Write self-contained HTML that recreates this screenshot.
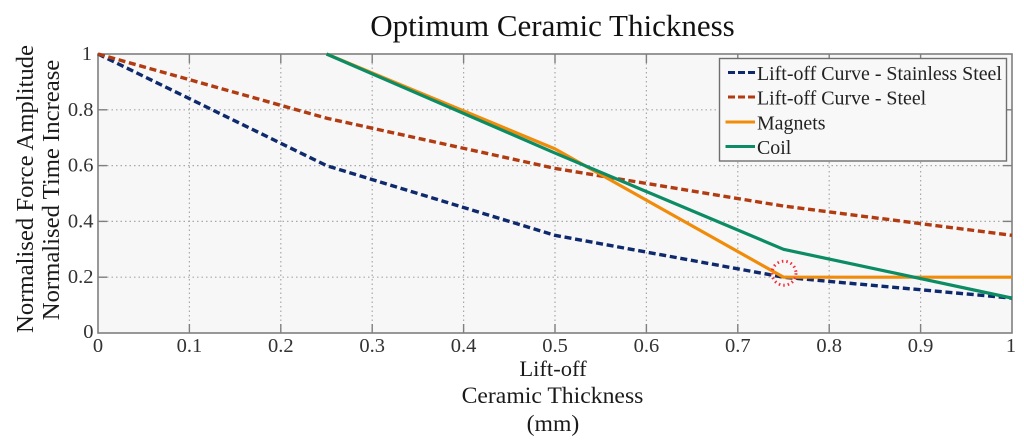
<!DOCTYPE html>
<html>
<head>
<meta charset="utf-8">
<style>
html,body{margin:0;padding:0;background:#fff;width:1024px;height:445px;overflow:hidden}
svg{display:block;font-family:"Liberation Serif",serif;filter:blur(0.35px)}
</style>
</head>
<body>
<svg id="chart" width="1024" height="445" viewBox="0 0 1024 445" xmlns="http://www.w3.org/2000/svg">
<rect x="98" y="54" width="914" height="279" fill="#f7f7f7"/>
<g id="grid"></g>
<g id="ticks"></g>
<rect x="98" y="54" width="914" height="279" fill="none" stroke="#7f7f7f" stroke-width="1.6"/>
<g id="series"></g>
<circle id="marker" r="12" fill="none" stroke="#f03040" stroke-width="3" stroke-dasharray="1.5 3"/>
<g>
<rect x="719.5" y="58.5" width="287" height="102.5" fill="#f8f8f8" stroke="#6f6f6f" stroke-width="1.4"/>
<g id="legend-entries"></g>
</g>
<text x="552.5" y="36" text-anchor="middle" font-size="31" fill="#111">Optimum Ceramic Thickness</text>
<text x="553" y="376" text-anchor="middle" font-size="22.6" fill="#1a1a1a">Lift-off</text>
<text x="552.5" y="403" text-anchor="middle" font-size="23.7" fill="#1a1a1a">Ceramic Thickness</text>
<text x="553" y="431" text-anchor="middle" font-size="23.7" fill="#1a1a1a">(mm)</text>
<text transform="translate(33 189) rotate(-90)" text-anchor="middle" font-size="24.7" fill="#1a1a1a">Normalised Force Amplitude</text>
<text transform="translate(59 190) rotate(-90)" text-anchor="middle" font-size="24.7" fill="#1a1a1a">Normalised Time Increase</text>
</svg>
<script>
const xTicks = [0, 0.1, 0.2, 0.3, 0.4, 0.5, 0.6, 0.7, 0.8, 0.9, 1];
const yTicks = [0, 0.2, 0.4, 0.6, 0.8, 1];
const stainlessX = [0, 0.25, 0.5, 0.75, 1];
const stainlessY = [1, 0.6, 0.35, 0.2, 0.125];
const steelX = [0, 0.25, 0.5, 0.75, 1];
const steelY = [1, 0.77, 0.59, 0.455, 0.35];
const magnetsX = [0.25, 0.5, 0.75, 1];
const magnetsY = [1, 0.66, 0.2, 0.2];
const coilX = [0.25, 0.5, 0.75, 1];
const coilY = [1, 0.645, 0.3, 0.125];
const markerPoint = [0.75, 0.2];
const legendLabels = ['Lift-off Curve - Stainless Steel', 'Lift-off Curve - Steel', 'Magnets', 'Coil'];

const NS = 'http://www.w3.org/2000/svg';
const sx = v => 98 + v * 914;
const sy = v => 333 - v * 279;
function make(tag, parent, attrs) {
  const el = document.createElementNS(NS, tag);
  for (const k in attrs) el.setAttribute(k, attrs[k]);
  parent.appendChild(el);
  return el;
}
const grid = document.getElementById('grid');
const ticks = document.getElementById('ticks');

xTicks.forEach(t => {
  const x = sx(t);
  if (t > 0 && t < 1) {
    const g = make('line', grid, {x1: x, x2: x, y1: 54, y2: 333, stroke: '#a8a8a8', 'stroke-width': 1.2, 'stroke-dasharray': '1.5 3'});
    
    
    const a = make('line', ticks, {x1: x, x2: x, y1: 333, y2: 324, stroke: '#7f7f7f', 'stroke-width': 1.4});
    
    
    const b = make('line', ticks, {x1: x, x2: x, y1: 54, y2: 63, stroke: '#7f7f7f', 'stroke-width': 1.4});
    
    
  }
  const label = make('text', ticks, {x: x + (t === 1 ? -1 : 0), y: 352, 'text-anchor': 'middle', 'font-size': 20.5, fill: '#333'});
  
  
  label.textContent = String(t);
});

yTicks.forEach(t => {
  const y = sy(t);
  if (t > 0 && t < 1) {
    const g = make('line', grid, {x1: 98, x2: 1012, y1: y, y2: y, stroke: '#a8a8a8', 'stroke-width': 1.2, 'stroke-dasharray': '1.5 3'});
    
    
    const a = make('line', ticks, {x1: 98, x2: 107, y1: y, y2: y, stroke: '#7f7f7f', 'stroke-width': 1.4});
    
    
    const b = make('line', ticks, {x1: 1012, x2: 1003, y1: y, y2: y, stroke: '#7f7f7f', 'stroke-width': 1.4});
    
    
  }
  const label = make('text', ticks, {x: t === 1 ? 92 : 93.5, y: y + (t === 0 ? 5 : 6), 'text-anchor': 'end', 'font-size': 20.5, fill: '#333'});
  
  
  label.textContent = String(t);
});

const seriesGroup = document.getElementById('series');
function drawSeries(xs, ys, color, dash, width) {
  const pts = xs.map((v, i) => sx(v) + ',' + sy(ys[i])).join(' ');
  const attrs = {points: pts, fill: 'none', stroke: color, 'stroke-width': width, 'stroke-linejoin': 'round'};
  if (dash) attrs['stroke-dasharray'] = dash;
  return make('polyline', seriesGroup, attrs);
}
const s1 = drawSeries(stainlessX, stainlessY, '#0e2a6c', '7 3.7', 3.4);


const s2 = drawSeries(steelX, steelY, '#b23c12', '7 3.7', 3.4);


const s3 = drawSeries(magnetsX, magnetsY, '#f08c0a', null, 3.2);


const s4 = drawSeries(coilX, coilY, '#0c8c64', null, 3.2);



const marker = document.getElementById('marker');
marker.setAttribute('cx', sx(markerPoint[0]) + 0.5);
marker.setAttribute('cy', sy(markerPoint[1]) - 4);

const legendStyles = [['#0e2a6c', '7 3', 728], ['#b23c12', '7 3', 728], ['#f08c0a', null, 725.5], ['#0c8c64', null, 725.5]];
const legendRowY = [72.5, 97, 122, 146.5];
const legendGroup = document.getElementById('legend-entries');
legendLabels.forEach((name, i) => {
  const st = legendStyles[i];
  const attrs = {x1: st[2], x2: 755, y1: legendRowY[i], y2: legendRowY[i], stroke: st[0], 'stroke-width': 3};
  if (st[1]) attrs['stroke-dasharray'] = st[1];
  const ln = make('line', legendGroup, attrs);
  
  
  const tx = make('text', legendGroup, {x: 757, y: legendRowY[i] + 7.5, 'font-size': 19.9, fill: '#222'});
  
  
  tx.textContent = name;
});
</script>
</body>
</html>
